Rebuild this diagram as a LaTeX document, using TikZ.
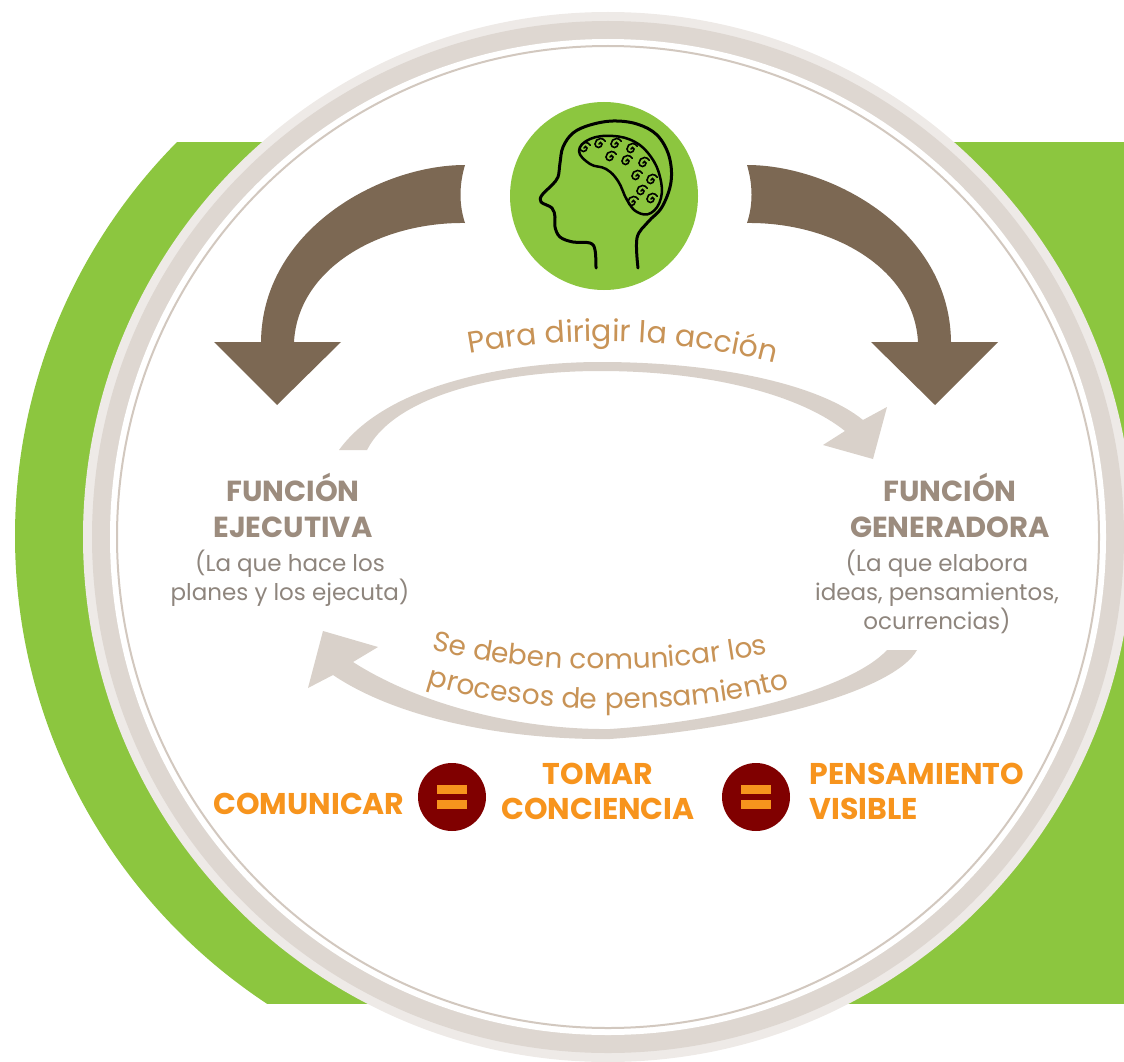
\documentclass[tikz,border=0pt]{standalone}
\usepackage{fontspec}
\setmainfont{Poppins}
\usetikzlibrary{positioning,decorations.text}

\definecolor{leaf}{HTML}{8CC63F}
\definecolor{bark}{HTML}{7C6853}
\definecolor{sand}{HTML}{D9D1CA}
\definecolor{ringlight}{HTML}{EEEAE7}
\definecolor{ringband}{HTML}{DED7D1}
\definecolor{ringline}{HTML}{D2C8BF}
\definecolor{titlegray}{HTML}{9C8C7E}
\definecolor{subgray}{HTML}{8E857D}
\definecolor{curvetan}{HTML}{C89356}
\definecolor{tangerine}{HTML}{F7941D}
\definecolor{maroon}{HTML}{800000}

\newcommand\curvefont{\fontsize{30}{34}\selectfont\color{curvetan}}
\newcommand\lowcurvefont{\fontsize{28}{32}\selectfont\color{curvetan}}

\begin{document}
\begin{tikzpicture}[x=1pt, y=-1pt,
    title/.style={font=\fontsize{29}{36}\selectfont\bfseries, text=titlegray, align=center},
    subtext/.style={font=\fontsize{23}{29}\selectfont, text=subgray, align=center},
    result/.style={font=\fontsize{30}{35}\selectfont\bfseries, text=tangerine},
    eqsign/.style={circle, fill=maroon, minimum size=68, inner sep=0},
    headline/.style={draw=black, line width=3, line cap=round, line join=round}]
    \useasboundingbox (0,0) rectangle (1124,1062);

    % green band behind the ring
    \begin{scope}
        \clip (0,143) rectangle (1124,1003);
        \fill[leaf] (575,536) circle[radius=560];
        \fill[leaf] (575,0) rectangle (1124,1062);
    \end{scope}

    % ring
    \fill[ringlight] (608,537) circle[radius=525];
    \fill[ringband] (608,537) circle[radius=516];
    \fill[white] (608,537) circle[radius=498];
    \draw[ringline, line width=2] (608,537) circle[radius=491];

    % brown arrows from the head
    \foreach \s/\d in {1/0, -1/1212}
        \fill[bark, xshift=\d, xscale=\s]
            (465,165) .. controls (380,165) and (262,230) .. (261,342)
            -- (214,342) -- (277,405) -- (341,342) -- (294,342)
            .. controls (298,268) and (380,222) .. (465,223)
            .. controls (459,205) and (459,185) .. (465,165) -- cycle;

    % light arrows between the two functions
    \fill[sand] (339,450) .. controls (390,380) and (520,362) .. (600,362)
        .. controls (720,362) and (820,385) .. (863,420)
        -- (887,407) -- (873,459) -- (823,445) -- (845,431)
        .. controls (800,395) and (710,371) .. (600,371)
        .. controls (500,371) and (395,395) .. (367,450) -- cycle;
    \fill[sand] (308,688) -- (323,631) -- (378,647) -- (353,662)
        .. controls (420,705) and (520,730) .. (610,729)
        .. controls (720,722) and (850,690) .. (887,650) -- (917,650)
        .. controls (895,690) and (760,728) .. (610,739)
        .. controls (510,740) and (400,720) .. (333,675) -- cycle;

    % head
    \node[circle, fill=leaf, minimum size=188, inner sep=0] (head) at (604,196) {};
    \draw[headline] plot[smooth, tension=0.6] coordinates {(638,268) (637,238) (648,222)
        (662,207) (671,182) (669,156) (657,135) (637,124) (613,121) (590,125) (573,133)
        (563,147) (560,163) (558,177) (552,185) (542,195) (541,202) (552,208) (555,217)
        (555,227) (560,237) (573,242) (590,243) (595,250) (596,268)};
    \draw[headline, line width=2.5] plot[smooth cycle, tension=0.7] coordinates {(579,151)
        (590,139) (613,136) (635,142) (651,157) (660,177) (661,198) (651,213) (637,212)
        (627,200) (618,181) (606,169) (590,164)};
    \foreach \x/\y in {584/148, 599/144, 615/144, 631/149, 610/157, 626/161, 643/163,
                       636/176, 651/180, 641/191, 651/199, 632/202}
        \draw[black, line width=1.6, line cap=round] (\x,\y)
            arc[start angle=180, end angle=360, radius=1.5]
            arc[start angle=0, end angle=180, radius=3.5]
            arc[start angle=180, end angle=330, radius=5.5];

    % functions
    \node[title] (fe) at (293,505) {FUNCIÓN\\EJECUTIVA};
    \node[subtext] (fesub) at (290,578) {(La que hace los\\planes y los ejecuta)};
    \node[title] (fg) at (950,505) {FUNCIÓN\\GENERADORA};
    \node[subtext] (fgsub) at (937,592) {(La que elabora\\ideas, pensamientos,\\ocurrencias)};

    % curved labels
    \path[decorate, decoration={text along path, text align=center,
        text={|\curvefont|Para dirigir la acción}}]
        (452,357) .. controls (560,335) and (680,335) .. (792,368);
    \path[decorate, decoration={text along path, text align=center,
        text={|\lowcurvefont|Se deben comunicar los}}]
        (422,646) .. controls (520,677) and (680,675) .. (778,651);
    \path[decorate, decoration={text along path, text align=center,
        text={|\lowcurvefont|procesos de pensamiento}}]
        (420,682) .. controls (520,717) and (690,717) .. (797,686);

    % bottom line
    \node[result] (comm) at (309,804) {COMUNICAR};
    \node[eqsign] (eq1) at (452,797) {};
    \node[result, align=center] (aware) at (598,791) {TOMAR\\CONCIENCIA};
    \node[eqsign] (eq2) at (756,797) {};
    \node[result, align=left, anchor=west] (visible) at (806,791) {PENSAMIENTO\\VISIBLE};
    \foreach \e in {eq1, eq2} {
        \fill[tangerine] (\e.center) ++(-15,-12) rectangle ++(30,9);
        \fill[tangerine] (\e.center) ++(-15,3) rectangle ++(30,9);
    }
\end{tikzpicture}
\end{document}
